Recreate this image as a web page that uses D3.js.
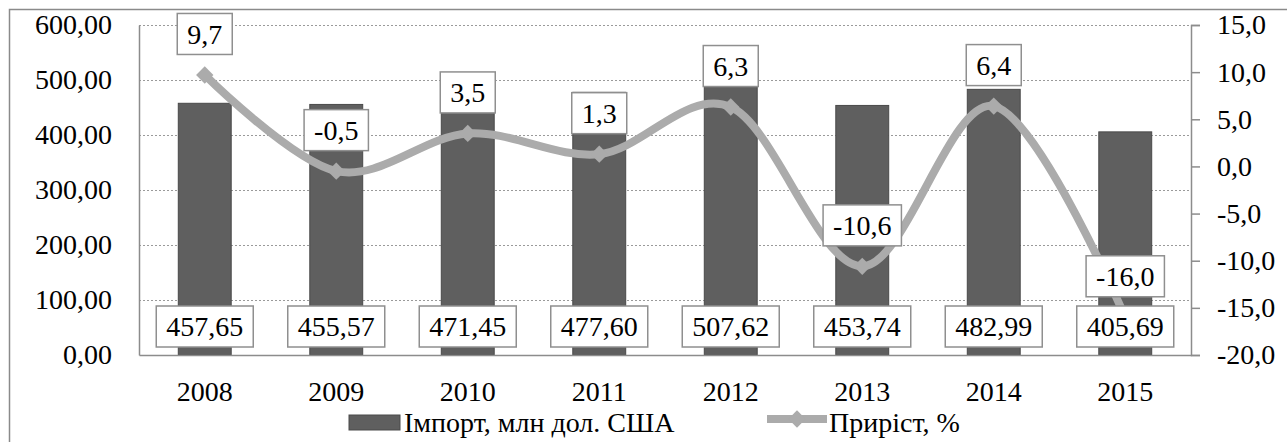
<!DOCTYPE html>
<html>
<head>
<meta charset="utf-8">
<script src="https://cdn.jsdelivr.net/npm/d3@7/dist/d3.min.js"></script>
<style>
  html, body { margin: 0; padding: 0; background: #fff; }
  svg text { font-family: "Liberation Serif", "Times New Roman", Times, "DejaVu Serif", serif !important; }
</style>
</head>
<body>
<svg id="chart" width="1287" height="442"></svg>
<script>
// ---- data ----
const years = ["2008", "2009", "2010", "2011", "2012", "2013", "2014", "2015"];
const imports = [457.65, 455.57, 471.45, 477.60, 507.62, 453.74, 482.99, 405.69];
const growth = [9.7, -0.5, 3.5, 1.3, 6.3, -10.6, 6.4, -16.0];
const leftTicks = [0, 100, 200, 300, 400, 500, 600];
const rightTicks = [-20, -15, -10, -5, 0, 5, 10, 15];
const seriesNames = ["Імпорт, млн дол. США", "Приріст, %"];

// ---- layout ----
const svg = d3.select("#chart");
const L = 139, R = 1191, T = 25, B = 355;
const FS = 28;
const barFill = "#5f5f5f", barStroke = "#4a4a4a";
const lineColor = "#ababab", axisColor = "#8c8c8c", boxStroke = "#8f8f8f";

const loc = d3.formatLocale({decimal: ",", thousands: " ", grouping: [3], currency: ["", ""], minus: "-"});
const f2 = loc.format(".2f"), f1 = loc.format(".1f");

const x = d3.scaleBand().domain(years).range([L, R]).paddingInner(0.59).paddingOuter(0.295);
const yL = d3.scaleLinear().domain([0, 600]).range([B, T]);
const yR = d3.scaleLinear().domain([-20, 15]).range([B, T]);
const cx = d => x(d) + x.bandwidth() / 2;

// outer border
svg.append("rect").attr("x", 9.5).attr("y", 9.5).attr("width", 1300).attr("height", 460)
  .attr("fill", "none").attr("stroke", "#8a8a8a").attr("stroke-width", 1.5);

// gridlines
svg.append("g").selectAll("line").data(leftTicks.filter(t => t > 0)).join("line")
  .attr("x1", L).attr("x2", R).attr("y1", d => yL(d) + 0.5).attr("y2", d => yL(d) + 0.5)
  .attr("stroke", "#9a9a9a").attr("stroke-width", 1).attr("stroke-dasharray", "2,2");

// bars
svg.append("g").selectAll("rect").data(imports).join("rect")
  .attr("x", (d, i) => x(years[i]) + 0.5).attr("y", d => yL(d))
  .attr("width", x.bandwidth() - 1).attr("height", d => yL(0) - yL(d))
  .attr("fill", barFill).attr("stroke", barStroke).attr("stroke-width", 1);

// left axis
const gL = svg.append("g").attr("transform", `translate(${L},0)`)
  .call(d3.axisLeft(yL).tickValues(leftTicks).tickFormat(f2).tickSize(0).tickPadding(27));
gL.select(".domain").attr("stroke", axisColor).attr("stroke-width", 1.5);
gL.selectAll("text").attr("font-size", FS).attr("fill", "#000");

// right axis
const gR = svg.append("g").attr("transform", `translate(${R},0)`)
  .call(d3.axisRight(yR).tickValues(rightTicks).tickFormat(f1).tickSize(9).tickPadding(17));
gR.select(".domain").attr("stroke", axisColor).attr("stroke-width", 1.5);
gR.selectAll(".tick line").attr("stroke", axisColor).attr("stroke-width", 1.5);
gR.selectAll("text").attr("font-size", FS).attr("fill", "#000");

// x axis
const gX = svg.append("g").attr("transform", `translate(0,${B})`)
  .call(d3.axisBottom(x).tickSize(0).tickPadding(26));
gX.select(".domain").attr("stroke", axisColor).attr("stroke-width", 1.5);
gX.selectAll("text").attr("font-size", FS).attr("fill", "#000");

// line
const pts = growth.map((g, i) => [cx(years[i]), yR(g)]);
svg.append("path").datum(pts)
  .attr("d", d3.line().curve(d3.curveCatmullRom.alpha(0)))
  .attr("fill", "none").attr("stroke", lineColor).attr("stroke-width", 8).attr("stroke-linejoin", "round");

svg.append("g").selectAll("path").data(pts).join("path")
  .attr("transform", d => `translate(${d[0]},${d[1]}) rotate(45)`)
  .attr("d", d3.symbol().type(d3.symbolSquare).size(150))
  .attr("fill", lineColor);

// label helper
function boxLabel(g, text, cxv, cyv) {
  const grp = g.append("g");
  const rect = grp.append("rect");
  const t = grp.append("text").attr("x", cxv).attr("y", cyv).attr("dy", "0.35em")
    .attr("text-anchor", "middle").attr("font-size", FS).attr("fill", "#000").text(text);
  const w = t.node().getComputedTextLength() + 20;
  const h = 41;
  rect.attr("x", cxv - w / 2).attr("y", cyv - h / 2).attr("width", w).attr("height", h)
    .attr("fill", "#fff").attr("stroke", boxStroke).attr("stroke-width", 1.5);
}

// line labels
const gLab = svg.append("g");
growth.forEach((g, i) => boxLabel(gLab, f1(g), cx(years[i]), yR(g) - 41));

// bar labels (inside base)
const gBL = svg.append("g");
imports.forEach((v, i) => boxLabel(gBL, f2(v), cx(years[i]), yL(0) - 28.5));

// legend
const lg = svg.append("g");
lg.append("rect").attr("x", 349).attr("y", 415).attr("width", 51).attr("height", 15)
  .attr("fill", barFill).attr("stroke", barStroke);
lg.append("text").attr("x", 404).attr("y", 432).attr("font-size", FS).attr("fill", "#000").text(seriesNames[0]);
lg.append("line").attr("x1", 767).attr("x2", 827).attr("y1", 419).attr("y2", 419)
  .attr("stroke", lineColor).attr("stroke-width", 8);
lg.append("path").attr("transform", "translate(797,419) rotate(45)")
  .attr("d", d3.symbol().type(d3.symbolSquare).size(150)).attr("fill", lineColor);
lg.append("text").attr("x", 829).attr("y", 432).attr("font-size", FS).attr("fill", "#000").text(seriesNames[1]);
</script>
</body>
</html>
